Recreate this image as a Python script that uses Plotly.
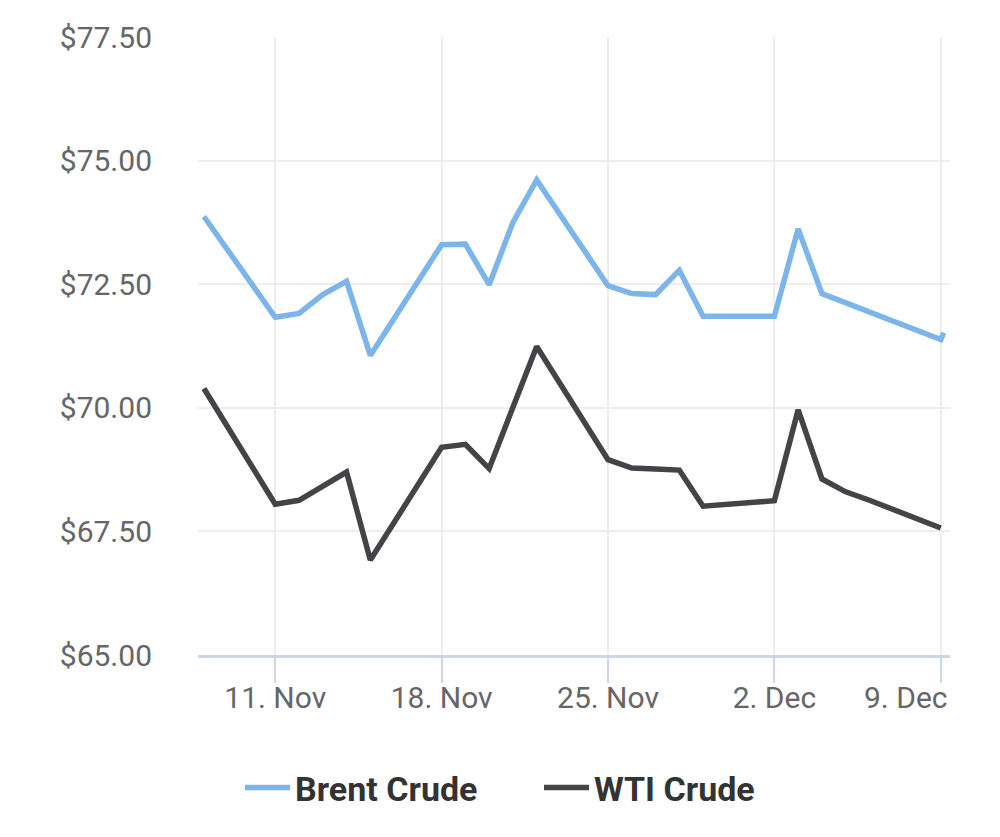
import plotly.graph_objects as go

dates = ["2024-11-08", "2024-11-11", "2024-11-12", "2024-11-13", "2024-11-14", "2024-11-15",
         "2024-11-18", "2024-11-19", "2024-11-20", "2024-11-21", "2024-11-22",
         "2024-11-25", "2024-11-26", "2024-11-27", "2024-11-28", "2024-11-29",
         "2024-12-02", "2024-12-03", "2024-12-04", "2024-12-05", "2024-12-06", "2024-12-09"]
brent = [73.87, 71.83, 71.91, 72.29, 72.56, 71.06,
         73.30, 73.31, 72.49, 73.75, 74.61,
         72.47, 72.31, 72.29, 72.78, 71.85,
         71.85, 73.62, 72.31, 72.12, 71.94, 71.38]
wti = [70.39, 68.05, 68.13, 68.41, 68.70, 66.92,
       69.20, 69.26, 68.77, 70.01, 71.24,
       68.95, 68.78, 68.76, 68.74, 68.01,
       68.12, 69.96, 68.56, 68.30, 68.13, 67.57]

# latest intraday tick on Brent (small stub at the end of the line)
brent_last_date = "2024-12-09 03:00"
brent_last = 71.52

tick_vals = ["2024-11-11", "2024-11-18", "2024-11-25", "2024-12-02", "2024-12-09"]
tick_text = ["11. Nov", "18. Nov", "25. Nov", "2. Dec", "9. Dec"]
y_ticks = [65, 67.5, 70, 72.5, 75, 77.5]
y_text = ["$65.00", "$67.50", "$70.00", "$72.50", "$75.00", "$77.50"]

fig = go.Figure()
fig.add_trace(go.Scatter(x=dates + [brent_last_date], y=brent + [brent_last], mode="lines",
                         name="Brent Crude", line=dict(color="#7cb5ec", width=5.5)))
fig.add_trace(go.Scatter(x=dates, y=wti, mode="lines", name="WTI Crude",
                         line=dict(color="#434348", width=5.5)))

fig.update_layout(
    width=1000, height=837,
    margin=dict(l=198, r=50, t=37, b=182, autoexpand=False),
    paper_bgcolor="white", plot_bgcolor="white",
    font=dict(family="Roboto", color="#666666", size=30),
    showlegend=True,
    legend=dict(orientation="h", xref="container", x=0.539, xanchor="center",
                y=-0.215, yanchor="middle",
                font=dict(family="Roboto", size=34, color="#333333", weight="bold"),
                itemwidth=45, entrywidth=239),
    hovermode=False,
)
# last date label kept inside the plot's right edge (as in the reference)
fig.add_annotation(x=tick_vals[-1], y=0, xref="x", yref="paper",
                   text=tick_text[-1], showarrow=False,
                   xanchor="right", yanchor="middle", xshift=9, yshift=-42,
                   font=dict(family="Roboto", size=30, color="#666666"))
fig.update_xaxes(
    type="date", range=["2024-11-07 18:00", "2024-12-09 09:20"],
    tickvals=tick_vals, ticktext=tick_text[:-1] + [""], tickangle=0, automargin=False,
    showgrid=True, gridcolor="#eeeeee", gridwidth=1.5,
    showline=True, linecolor="#ccd6eb", linewidth=3,
    ticks="outside", ticklen=25, tickcolor="#ccd6eb", tickwidth=1.5,
    ticklabelstandoff=-11,
    tickfont=dict(family="Roboto", size=30, color="#666666"),
    zeroline=False,
)
fig.update_yaxes(
    range=[65, 77.5], tickvals=y_ticks, ticktext=y_text, automargin=False,
    showgrid=True, gridcolor="#eeeeee", gridwidth=1.5,
    showline=False, zeroline=False, ticks="",
    ticklabelstandoff=45,
    tickfont=dict(family="Roboto", size=30, color="#666666"),
)

fig.write_html("out.html")
